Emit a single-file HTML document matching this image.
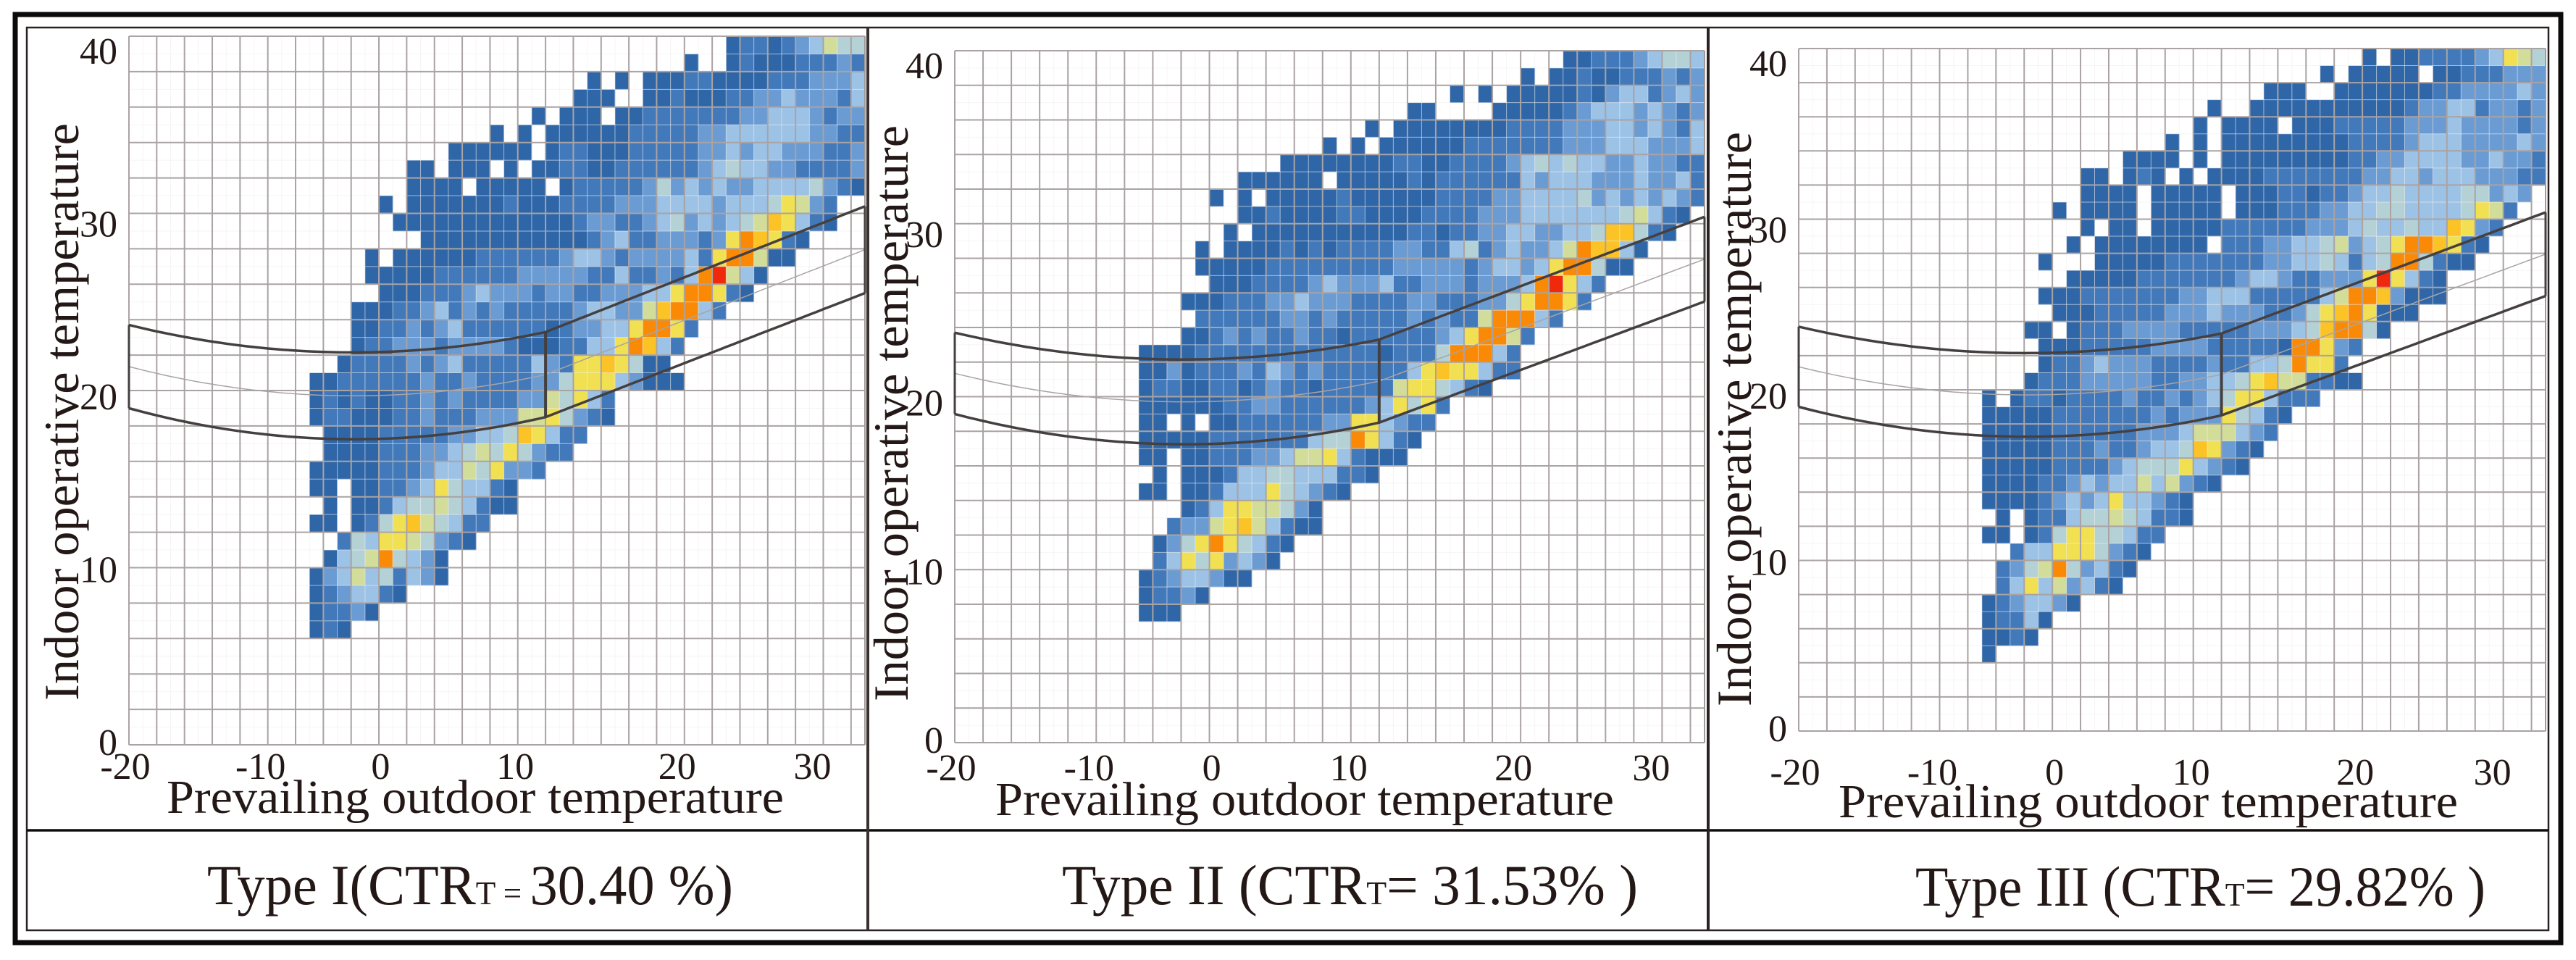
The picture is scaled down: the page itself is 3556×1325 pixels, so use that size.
<!DOCTYPE html>
<html><head><meta charset="utf-8"><style>
html,body{margin:0;padding:0;background:#fff;}
svg{display:block;}
text{font-family:"Liberation Serif",serif;fill:#231816;}
</style></head><body>
<svg id="fig" width="3556" height="1325" viewBox="0 0 3556 1325" xmlns="http://www.w3.org/2000/svg">
<rect x="0" y="0" width="3556" height="1325" fill="#fff"/>
<g id="panels"></g>
<rect x="21" y="20" width="3514" height="1281" fill="none" stroke="#0d0a0a" stroke-width="7"/>
<rect x="37" y="38" width="3481" height="1246" fill="none" stroke="#2a2222" stroke-width="2.5"/>
<line x1="37" y1="1146" x2="3518" y2="1146" stroke="#120d0d" stroke-width="3.5"/>
<line x1="1198" y1="38" x2="1198" y2="1284" stroke="#3a3030" stroke-width="4"/>
<line x1="2358" y1="38" x2="2358" y2="1284" stroke="#2a2222" stroke-width="4"/>
</svg>
<script>
// ---- data ----
const xTicks = [-20, -10, 0, 10, 20, 30];
const yTicks = [0, 10, 20, 30, 40];
const colorLevels = ["#ffffff","#2f66a8","#4279bb","#6a9bd3","#9cc2e6","#b4d2d6","#d3dd9a","#f1e052","#fbc325","#fa8a05","#f0280c"];
// comfort band control values at x = -20, -1, 10 (curved part) and end value at x = 33
const bandKnotsX = [-20, -1, 10];
const bandUpper = [23.7, 22.2, 23.3];
const bandLower = [19.0, 17.3, 18.5];
const bandUpperEnd = 30.4;
const bandLowerEnd = 25.5;
const captions = [
  ["Type I(CTR", "T = ", "30.40 %)"],
  ["Type II (CTR", "T", "= 31.53% )"],
  ["Type III (CTR", "T", "= 29.82% )"]
];
// heatmap rows: [y-bin, x-start, level codes per 1-degree bin]
const heat1 = [
[39,23,"1221234655"],[38,20,"1001211122232"],[37,13,"10101112211112223334"],[36,12,"111001121112233433324"],
[35,9,"101110112222222334443233"],[34,6,"101011111122222334444443322"],[33,3,"111111012211122222334344333223"],
[32,0,"110111010112211222222345443322223"],[31,0,"111101111101222223534343344445321"],
[30,-2,"101111111211122223334444344457632"],[29,-1,"11111111111112332234534345687421"],
[28,1,"1111111111112342233323798721"],[27,-3,"1011111122222234432333342799611"],
[26,-3,"1111122222233333224223249A641"],[25,-2,"111222343332332233344799721"],
[24,-4,"111223423232222234433689942"],[23,-4,"1122323422222212334479972"],
[22,-4,"122333233332111224479842"],[21,-5,"122223234222224327787511"],
[20,-7,"112222223223222233577743111"],[19,-7,"1212112232322223365742"],
[18,-7,"1221112232223336675321"],[17,-6,"1111222223344587422"],[16,-6,"111122233456575322"],
[15,-7,"11111222344657332"],[14,-7,"110112234754421"],[13,-6,"10112455654211"],
[12,-7,"1101257865422"],[11,-5,"2547765321"],[10,-6,"145695431"],[9,-7,"1346452431"],
[8,-7,"1234421"],[7,-7,"12231"],[6,-7,"121"]
];
const heat2 = [
[39,23,"1122234554"],[38,20,"1011211222323"],[37,15,"101011111213442343"],[36,12,"110000111112344434323"],
[35,9,"101111111122223334434324"],[34,6,"101011111122222223334443334"],[33,3,"111111112211222234545443343322"],
[32,0,"111111011111212222224344433343342"],[31,-2,"10101111121111112222334444534343432"],
[30,0,"11211112211112222333444444456421"],[29,-1,"10111111111112212233443344588521"],
[28,-3,"10111121212222332245234334698841"],[27,-3,"1111122222222233333234434799511"],
[26,-2,"111222234333422333233349A742"],[25,-4,"11122233433322223322233579972"],
[24,-3,"22222233232222232322699942"],[23,-4,"1123232232212222223479962"],
[22,-7,"111122222222222221222599942"],[21,-7,"113122232432322222247877422"],
[20,-7,"1221122123221222226775421"],[19,-7,"1111112233222222347572"],
[18,-7,"110101122222233774322"],[17,-7,"11111222222245597421"],[16,-7,"1101122233466742111"],
[15,-6,"1011124455444221"],[14,-7,"110112444754321"],[13,-4,"1247766531"],
[12,-5,"23367864211"],[11,-6,"1357975421"],[10,-6,"247573431"],[9,-7,"12344311"],
[8,-7,"12231"],[7,-7,"111"]
];
const heat3 = [
[39,20,"1011222234765"],[38,17,"1011111011222333"],[37,13,"11100111111122333343"],[36,9,"100111111111112334423323"],
[35,8,"1011110111222223334333323"],[34,6,"101011111111122223444333343"],[33,3,"111101011111111122334444334332"],
[32,0,"110121010111122222223344344433322"],[31,0,"11110111110111221223445444455343"],
[30,-2,"1011110111110111222334455444457 62".replace(" ","")],[29,0,"101101111122222233345445448732"],
[28,-1,"101111111102223344563457998721"],[27,-3,"1000111112222222334454245995211"],
[26,-1,"1111122222223443223337A7421"],[25,-3,"11122222223344422222469983111"],
[24,-2,"11122222333433322357897111"],[23,-4,"11012223333222223334589951"],
[22,-3,"11122222333322222199732"],[21,-3,"1223433322223224459772"],
[20,-4,"122233333223344578662211"],[19,-7,"101221222232232345774222"],
[18,-7,"1111122222223233375421"],[17,-7,"111112222223334666432"],
[16,-7,"11111222322344587321"],[15,-7,"1111122223455574321"],[14,-7,"11112234344646321"],
[13,-7,"111123434744321"],[12,-6,"10122455654221"],[11,-7,"1101257755422"],
[10,-5,"2447775321"],[9,-6,"2356953421"],[8,-6,"247463421"],[7,-7,"1234431"],
[6,-7,"12241"],[5,-7,"1121"],[4,-7,"1"]
];
const heatData = [heat1, heat2, heat3];

// ---- layout (geometry, not data) ----
const NS = "http://www.w3.org/2000/svg";
const panels = [
  {l:178, r:1194, t:50, b:1028, xTitle:[230,852,1122], yTitle:[108,967,797], xLblBase:1075, cap:[286,726,1248]},
  {l:1318, r:2353, t:70, b:1025, xTitle:[1374,854,1125], yTitle:[1253,968,795], xLblBase:1077, cap:[1466,795,1248]},
  {l:2483, r:3514, t:67, b:1009, xTitle:[2538,855,1128], yTitle:[2417,975,793], xLblBase:1083, cap:[2644,787,1250]}
];
const xLabelNudge = [-5, -10, -36, -42, -10, -15];
const X_MIN = -20, X_MAX = 33, Y_MIN = 0, Y_MAX = 40;

function mk(tag, attrs, parent) {
  const el = document.createElementNS(NS, tag);
  for (const k in attrs) el.setAttribute(k, attrs[k]);
  parent.appendChild(el);
  return el;
}
function lagrange(xs, ys, x) {
  let s = 0;
  for (let i = 0; i < xs.length; i++) {
    let p = ys[i];
    for (let j = 0; j < xs.length; j++) if (j !== i) p *= (x - xs[j]) / (xs[i] - xs[j]);
    s += p;
  }
  return s;
}
function bandValue(vals, endVal, x) {
  const xb = bandKnotsX[2];
  if (x <= xb) return lagrange(bandKnotsX, vals, x);
  return vals[2] + (endVal - vals[2]) * (x - xb) / (X_MAX - xb);
}

const root = document.getElementById("panels");
panels.forEach((P, pi) => {
  const g = mk("g", {}, root);
  
  
  const X = v => P.l + (v - X_MIN) / (X_MAX - X_MIN) * (P.r - P.l);
  const Y = v => P.b - (v - Y_MIN) / (Y_MAX - Y_MIN) * (P.b - P.t);

  const hg = mk("g", {}, g);
  
  
  heatData[pi].forEach(row => {
    const yb = row[0], xs = row[1], codes = row[2];
    for (let i = 0; i < codes.length; i++) {
      const lv = parseInt(codes[i], 16);
      if (!lv) continue;
      const xv = xs + i;
      const c = mk("rect", {x: X(xv).toFixed(2), y: Y(yb + 1).toFixed(2),
        width: (X(xv + 1) - X(xv) + 0.4).toFixed(2), height: (Y(yb) - Y(yb + 1) + 0.4).toFixed(2),
        fill: colorLevels[lv]}, hg);
      
      
    }
  });

  const gg = mk("g", {}, g);
  
  
  for (let v = X_MIN + 1; v < X_MAX; v += 2)
    mk("line", {x1: X(v), y1: P.t, x2: X(v), y2: P.b, stroke: "#f0eeee", "stroke-width": 1, "stroke-opacity": 0.6}, gg);
  for (let v = Y_MIN + 1; v < Y_MAX; v += 2)
    mk("line", {x1: P.l, y1: Y(v), x2: P.r, y2: Y(v), stroke: "#f0eeee", "stroke-width": 1, "stroke-opacity": 0.6}, gg);
  for (let v = X_MIN; v <= X_MAX; v += 2)
    mk("line", {x1: X(v), y1: P.t, x2: X(v), y2: P.b, stroke: "#aaa3a3", "stroke-width": 2}, gg);
  for (let v = Y_MIN; v <= Y_MAX; v += 2)
    mk("line", {x1: P.l, y1: Y(v), x2: P.r, y2: Y(v), stroke: "#aaa3a3", "stroke-width": 2}, gg);
  mk("line", {x1: P.r, y1: P.t, x2: P.r, y2: P.b, stroke: "#a09a9a", "stroke-width": 2}, gg);

  const bg = mk("g", {fill: "none"}, g);
  
  
  const pts = (fn) => {
    const a = [];
    for (let x = X_MIN; x <= X_MAX + 0.001; x += 0.5) a.push(X(x).toFixed(1) + "," + Y(fn(x)).toFixed(1));
    return a.join(" ");
  };
  const up = x => bandValue(bandUpper, bandUpperEnd, x);
  const lo = x => bandValue(bandLower, bandLowerEnd, x);
  const mid = x => (up(x) + lo(x)) / 2;
  const m = mk("polyline", {points: pts(mid), stroke: "#a8a4a4", "stroke-width": 1.5}, bg);
  
  
  const u = mk("polyline", {points: pts(up), stroke: "#454040", "stroke-width": 3.5}, bg);
  
  
  const lw = mk("polyline", {points: pts(lo), stroke: "#454040", "stroke-width": 3.5}, bg);
  
  
  [X_MIN, bandKnotsX[2], X_MAX].forEach(xv => {
    const vl = mk("line", {x1: X(xv), y1: Y(lo(xv)), x2: X(xv), y2: Y(up(xv)), stroke: "#454040", "stroke-width": xv === bandKnotsX[2] ? 4 : 3}, bg);
    
    
  });

  yTicks.forEach(v => {
    const t = mk("text", {x: P.l - 16, y: (Y(v) + 38 - (40 - v) * 0.6).toFixed(1), "font-size": 52, "text-anchor": "end"}, g);
    t.textContent = String(v);
    
    
  });
  xTicks.forEach((v, i) => {
    const t = mk("text", {x: (X(v) + xLabelNudge[i]).toFixed(1), y: P.xLblBase, "font-size": 52, "text-anchor": "middle"}, g);
    t.textContent = String(v);
    
    
  });
  const xt = mk("text", {x: P.xTitle[0], y: P.xTitle[2], "font-size": 66, textLength: P.xTitle[1], lengthAdjust: "spacingAndGlyphs"}, g);
  xt.textContent = "Prevailing outdoor temperature";
  
  
  const yt = mk("text", {x: 0, y: 0, "font-size": 68, textLength: P.yTitle[2], lengthAdjust: "spacingAndGlyphs",
    transform: "translate(" + P.yTitle[0] + "," + P.yTitle[1] + ") rotate(-90)"}, g);
  yt.textContent = "Indoor operative temperature";
  
  
  const cp = captions[pi];
  const ct = mk("text", {x: P.cap[0], y: P.cap[2], "font-size": 78, textLength: P.cap[1], lengthAdjust: "spacingAndGlyphs"}, g);
  
  
  const t1 = mk("tspan", {}, ct); t1.textContent = cp[0];
  const t2 = mk("tspan", {"font-size": 46}, ct); t2.textContent = cp[1];
  const t3 = mk("tspan", {}, ct); t3.textContent = cp[2];
});
</script>
</body></html>
